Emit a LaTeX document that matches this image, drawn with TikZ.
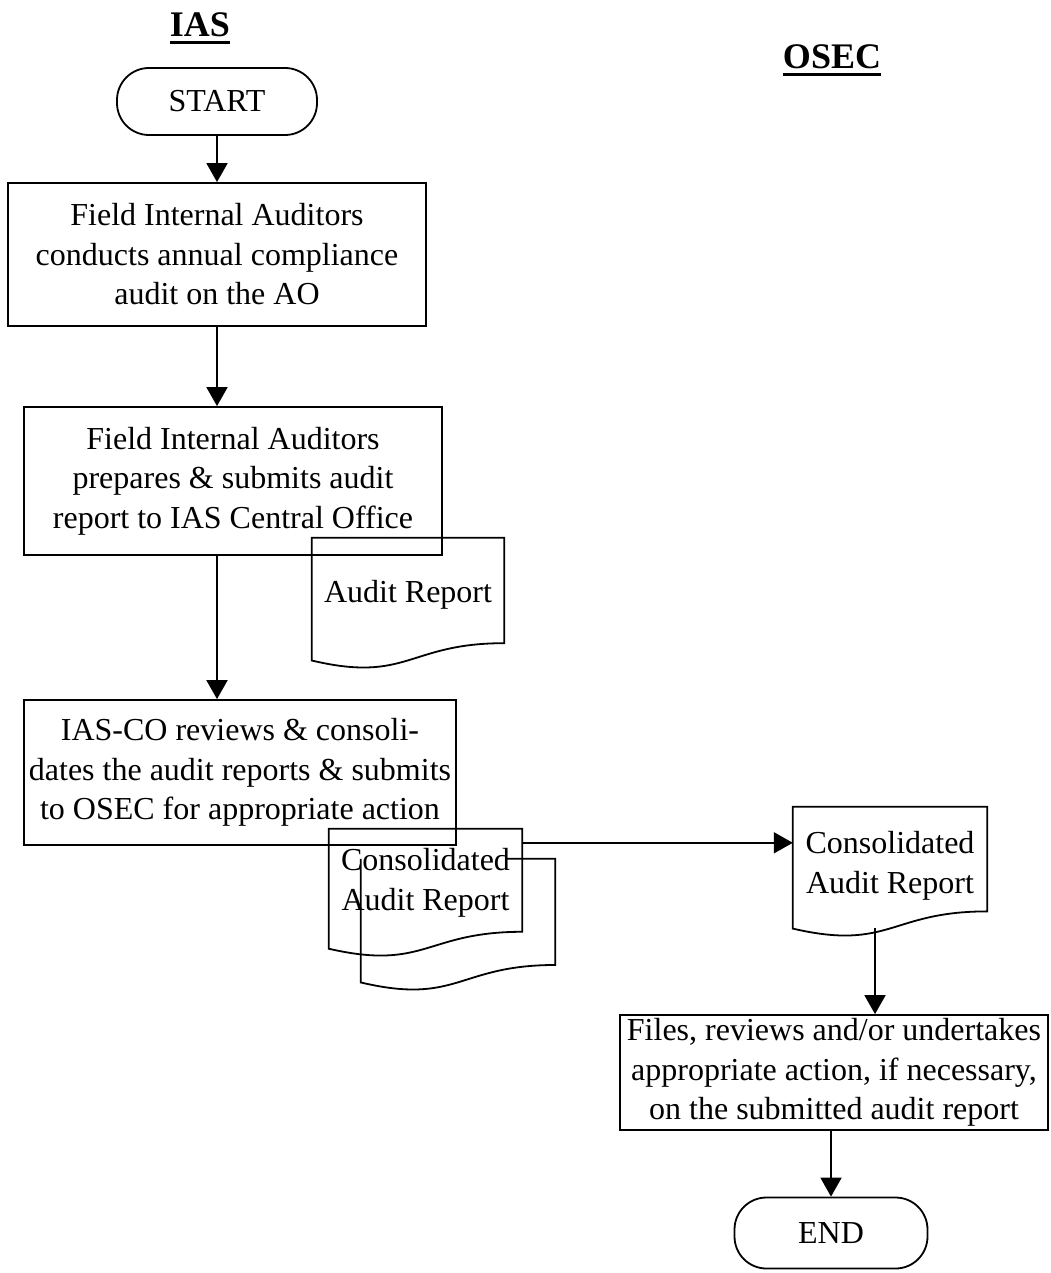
\documentclass[tikz,border=0pt]{standalone}
\usepackage{fontspec}
\setmainfont{Liberation Serif}
\usetikzlibrary{arrows.meta,calc}

% outline of a flowchart "document" shape laid over a rectangular node
\newcommand\docpath[1]{(#1.north west) -- (#1.north east)
  -- ($(#1.north east)!0.802!(#1.south east)$)
  .. controls ($(#1.north)!0.802!(#1.south)$) and ($(#1.north)!1.107!(#1.south)$)
  .. ($(#1.north west)!0.934!(#1.south west)$) -- cycle}

\begin{document}
\begin{tikzpicture}[x=1pt,y=-1pt,
  every node/.style={font=\fontsize{32}{39.5}\selectfont, inner sep=0pt},
  procbox/.style={draw, line width=1.8pt, align=center},
  term/.style={draw, line width=1.8pt, rounded corners=32pt},
  docframe/.style={draw=none},
  outline/.style={line width=1.8pt, line join=miter},
  flow/.style={line width=1.8pt, -{Triangle[length=19pt,width=21pt]}},
  heading/.style={font=\fontsize{36}{40}\selectfont\bfseries},
  rule/.style={line width=2.5pt}
]
\useasboundingbox (0,0) rectangle (1051,1273);

% lane headings
\node[heading] (ias) at (200,25) {IAS};
\draw[rule] ($(ias.base west)+(0,6)$) -- ($(ias.base east)+(0,6)$);
\node[heading] (osec) at (832,57) {OSEC};
\draw[rule] ($(osec.base west)+(0,6)$) -- ($(osec.base east)+(0,6)$);

% IAS lane
\node[term, minimum width=200pt, minimum height=67pt] (start) at (217,101.5) {START};
\node[procbox, minimum width=418pt, minimum height=143pt] (b1) at (217,254.5)
  {Field Internal Auditors\\conducts annual compliance\\audit on the AO};
\node[procbox, minimum width=418pt, minimum height=148pt] (b2) at (233,481)
  {Field Internal Auditors\\prepares \& submits audit\\report to IAS Central Office};
\node[procbox, minimum width=432pt, minimum height=145pt] (b3) at (240,772.5)
  {IAS-CO reviews \& consoli-\\dates the audit reports \& submits\\to OSEC for appropriate action};

% audit report document
\node[docframe, minimum width=192pt, minimum height=131pt] (rep) at (408,603.5) {};
\node (repT) at ($(rep.center)+(0,-9)$) {Audit Report};
\draw[outline] \docpath{rep};

% stacked consolidated reports
\node[docframe, minimum width=194pt, minimum height=132pt] (cons2) at (458,925) {};
\node[docframe, minimum width=193pt, minimum height=128pt] (cons1) at (425.5,893) {};
\draw[outline] ($(cons2.north east)+(-50,0)$) -- (cons2.north east)
  -- ($(cons2.north east)!0.802!(cons2.south east)$)
  .. controls ($(cons2.north)!0.802!(cons2.south)$) and ($(cons2.north)!1.107!(cons2.south)$)
  .. ($(cons2.north west)!0.934!(cons2.south west)$) -- (cons2.north west);
\draw[outline] \docpath{cons1};
\node[align=center] (cons1T) at ($(cons1.center)+(0,-10)$) {Consolidated\\Audit Report};

% OSEC lane
\node[docframe, minimum width=194pt, minimum height=130pt] (odoc) at (890,872) {};
\node[align=center] (odocT) at ($(odoc.center)+(0,-6)$) {Consolidated\\Audit Report};
\draw[outline] \docpath{odoc};
\node[procbox, minimum width=428pt, minimum height=115pt] (b4) at (834,1072.5)
  {Files, reviews and/or undertakes\\appropriate action, if necessary,\\on the submitted audit report};
\node[term, minimum width=193pt, minimum height=71pt] (end) at (831,1233) {END};

% connectors
\draw[flow] (start.south) -- (start.south |- b1.north);
\draw[flow] (b1.south) -- (b1.south |- b2.north);
\draw[flow] (b1.south |- b2.south) -- (b1.south |- b3.north);
\coordinate (hx) at ($(cons1.north east)+(0,14)$);
\draw[flow] (hx) -- (hx -| odoc.west);
\coordinate (dv) at ($(odoc.north)!0.933!(odoc.south)+(-15,0)$);
\draw[flow] (dv) -- (dv |- b4.north);
\draw[flow] (end.north |- b4.south) -- (end.north);
\end{tikzpicture}
\end{document}
